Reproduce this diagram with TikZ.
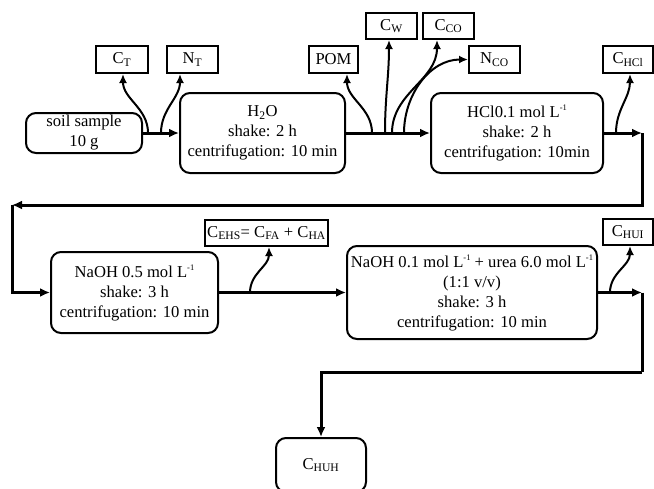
\documentclass[tikz,border=0pt]{standalone}
\usepackage{fontspec}
\setmainfont{Liberation Serif}
\usetikzlibrary{arrows.meta,calc}
\newcommand\perL{L\raisebox{0.42em}{\fontsize{8.5}{9}\selectfont -1}}
\begin{document}
\begin{tikzpicture}[x=1pt,y=-1pt,
  font=\fontsize{16.6}{20}\selectfont,
  proc/.style={draw, line width=2pt, rounded corners=10pt, align=center, inner sep=0pt},
  res/.style={draw, line width=2pt, inner sep=0pt, minimum height=27pt},
  flow/.style={line width=3pt, -{Latex[length=10pt,width=9pt]}},
  br/.style={line width=2pt, -{Latex[length=9pt,width=8pt]}}]
\useasboundingbox (0,0) rectangle (654,488);
\clip (0,0) rectangle (654,488);
\fill[white] (0,0) rectangle (654,488);

% process boxes
\node[proc, minimum width=116pt, minimum height=40pt] (soil) at (84,133) {soil sample\\10 g};
\node[proc, minimum width=165pt, minimum height=80pt] (water) at (262.5,133) {H\textsubscript{2}O\\shake: 2 h\\centrifugation: 10 min};
\node[proc, minimum width=172pt, minimum height=80pt] (hcl) at (517,133) {HCl0.1 mol \perL\\shake: 2 h\\centrifugation: 10min};
\node[proc, minimum width=167pt, minimum height=81pt] (naoh) at (134.5,292.5) {NaOH 0.5 mol \perL\\shake: 3 h\\centrifugation: 10 min};
\node[proc, minimum width=250pt, minimum height=93pt] (urea) at (472,292.5) {NaOH 0.1 mol \perL{} + urea 6.0 mol \perL\\(1:1 v/v)\\shake: 3 h\\centrifugation: 10 min};
\node[proc, minimum width=90pt, minimum height=54pt] (chuh) at (321,465) {C\textsubscript{HUH}};

% result boxes
\node[res, minimum width=52pt] (ct) at (122,59.5) {C\textsubscript{T}};
\node[res, minimum width=51pt] (nt) at (192.5,59.5) {N\textsubscript{T}};
\node[res, minimum width=49pt] (pom) at (333.5,59.5) {POM};
\node[res, minimum width=51pt, minimum height=26pt] (cw) at (391.5,26) {C\textsubscript{W}};
\node[res, minimum width=51pt, minimum height=26pt] (cco) at (448.5,26) {C\textsubscript{CO}};
\node[res, minimum width=51pt] (nco) at (494.5,59.5) {N\textsubscript{CO}};
\node[res, minimum width=50pt] (chcl) at (628,59.5) {C\textsubscript{HCl}};
\node[res, minimum width=123pt, minimum height=26pt] (cehs) at (266.5,233) {C\textsubscript{EHS}= C\textsubscript{FA} + C\textsubscript{HA}};
\node[res, minimum width=50pt, minimum height=26pt] (chui) at (628,232) {C\textsubscript{HUI}};

% branch and turn points
\coordinate (b1) at (148,133);
\coordinate (b2) at (161,133);
\coordinate (b3) at (372,133);
\coordinate (b4) at (385,133);
\coordinate (b5) at (392,133);
\coordinate (b6) at (404,133);
\coordinate (b7) at (616,133);
\coordinate (t1) at (642,133);
\coordinate (t2) at (12,205);
\coordinate (b8) at (250,292.5);
\coordinate (b9) at (610,292.5);
\coordinate (t3) at (642,292.5);
\coordinate (t4) at (642,372);

% main flow
\draw[flow] (soil) -- (water);
\draw[flow] (water) -- (hcl);
\draw[flow] (hcl.east) -- (t1);
\draw[flow] (t1) |- (t2);
\draw[flow] (t2) |- (naoh.west);
\draw[flow] (naoh) -- (urea);
\draw[flow] (urea.east) -- (t3);
\draw[line width=3pt] (t3) -- (t4);
\draw[flow] (t4) -| (chuh.north);

% branches
\draw[br] (b1) to[out=90,in=-90] ([xshift=1pt]ct.south);
\draw[br] (b2) to[out=90,in=-90] ([xshift=-12.5pt]nt.south);
\draw[br] (b3) to[out=90,in=-90] ([xshift=13.5pt]pom.south);
\draw[br] (b4) to[out=90,in=-90] ([xshift=-2.5pt]cw.south);
\draw[br] (b5) to[out=90,in=-90] ([xshift=-11.5pt]cco.south);
\draw[br] (b6) to[out=90,in=180] (nco.west);
\draw[br] (b7) to[out=90,in=-90] ([xshift=2pt]chcl.south);
\draw[br] (b8) to[out=90,in=-90] ([xshift=2.5pt]cehs.south);
\draw[br] (b9) to[out=90,in=-90] ([xshift=2pt]chui.south);
\end{tikzpicture}
\end{document}
